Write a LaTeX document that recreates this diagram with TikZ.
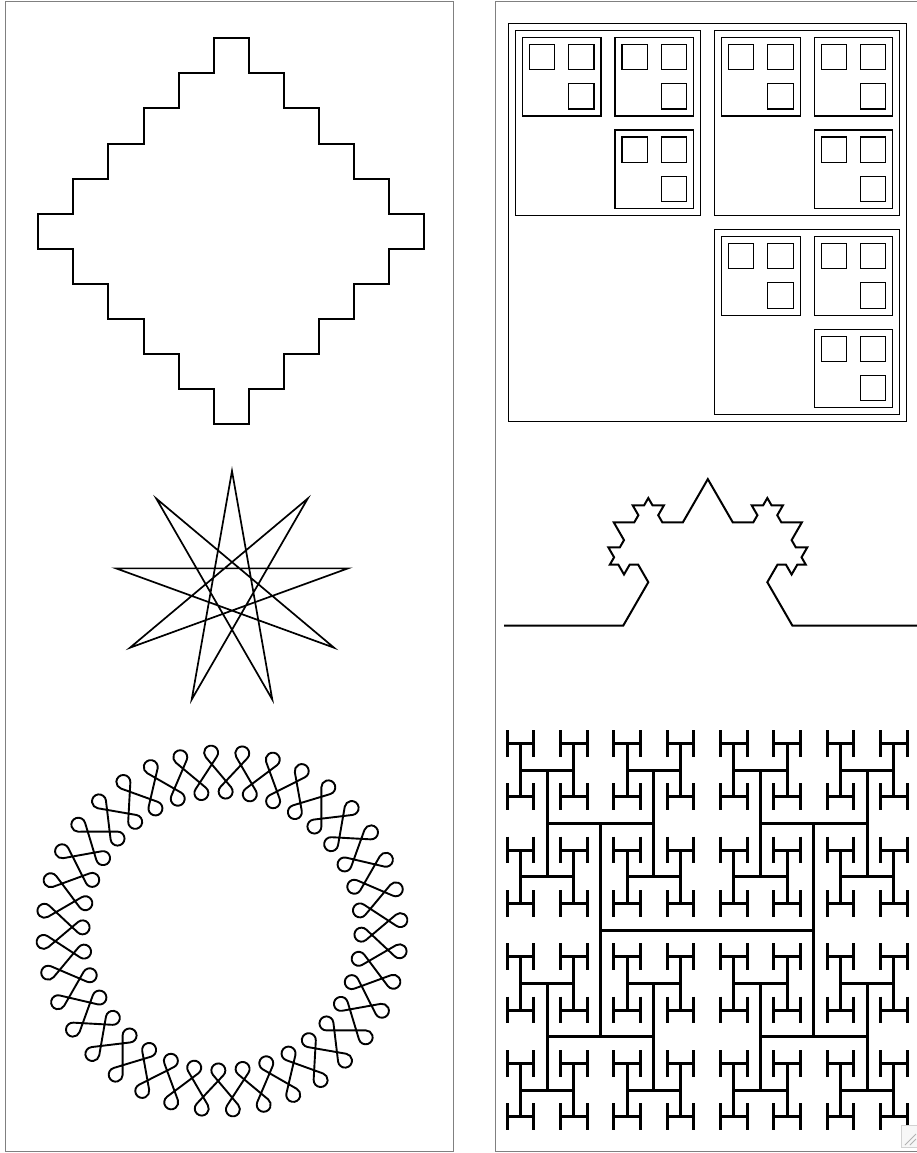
\documentclass[tikz,border=0pt]{standalone}
\usetikzlibrary{calc}
% ---------- turtle helpers for the Koch-like curve ----------
\newcommand\kfwd[1]{%
  \pgfmathsetmacro\tmpx{\kx+(#1)*cos(\kh)}%
  \pgfmathsetmacro\tmpy{\ky-(#1)*sin(\kh)}%
  \global\let\kx\tmpx\global\let\ky\tmpy
  \xdef\kpath{\kpath -- (\kx,\ky)}}
\newcommand\kturn[1]{\pgfmathsetmacro\tmph{\kh+(#1)}\global\let\kh\tmph}
\newcommand\kochseg[2]{%
  \ifnum#2=0
    \kfwd{#1}%
  \else
    \begingroup
    \pgfmathsetmacro\ka{(#1)*0.2959}%
    \pgfmathsetmacro\kb{(#1)*0.4083}%
    \pgfmathtruncatemacro\kd{#2-1}%
    \edef\knext{\noexpand\kochseg{\kb}{\kd}}%
    \kfwd{\ka}\kturn{60}%
    \knext
    \kturn{-120}%
    \knext
    \kturn{60}%
    \kfwd{\ka}%
    \endgroup
  \fi}
% ---------- nested squares ----------
\newcommand\sqrec[4]{%
  \draw[sqline] (#1,#2) rectangle ++(#3,#3);
  \ifnum#4>0
    \begingroup
    \pgfmathsetmacro\sL{(#3-28)/2}%
    \pgfmathsetmacro\sxa{#1+7}%
    \pgfmathsetmacro\sya{#2+7}%
    \pgfmathsetmacro\sxb{#1+21+\sL}%
    \pgfmathsetmacro\syb{#2+21+\sL}%
    \pgfmathtruncatemacro\sd{#4-1}%
    \edef\snext{\noexpand\sqrec{\sxa}{\sya}{\sL}{\sd}%
      \noexpand\sqrec{\sxb}{\sya}{\sL}{\sd}%
      \noexpand\sqrec{\sxb}{\syb}{\sL}{\sd}}%
    \snext
    \endgroup
  \fi}
% ---------- H-tree ----------
\newcommand\htH[4]{%
  \begingroup
  \pgfmathsetmacro\hxa{#1-(#3)/2}\pgfmathsetmacro\hxb{#1+(#3)/2}%
  \draw[hline] (\hxa,#2) -- (\hxb,#2);
  \ifnum#4>0
    \pgfmathtruncatemacro\hd{#4-1}%
    \edef\hnext{\noexpand\htV{\hxa}{#2}{#3}{\hd}\noexpand\htV{\hxb}{#2}{#3}{\hd}}\hnext
  \fi
  \endgroup}
\newcommand\htV[4]{%
  \begingroup
  \pgfmathsetmacro\hya{#2-(#3)/2}\pgfmathsetmacro\hyb{#2+(#3)/2}%
  \draw[hline] (#1,\hya) -- (#1,\hyb);
  \ifnum#4>0
    \pgfmathtruncatemacro\hd{#4-1}\pgfmathsetmacro\hl{(#3)/2}%
    \edef\hnext{\noexpand\htH{#1}{\hya}{\hl}{\hd}\noexpand\htH{#1}{\hyb}{\hl}{\hd}}\hnext
  \fi
  \endgroup}
\begin{document}
\begin{tikzpicture}[x=1pt,y=-1pt,
  panel/.style={draw=gray,line width=1pt},
  stairline/.style={line width=2pt},
  starline/.style={line width=1.7pt,line join=miter},
  ringline/.style={line width=1.9pt},
  sqline/.style={line width=1.2pt},
  kline/.style={line width=2pt},
  hline/.style={line width=3pt}]
\useasboundingbox (0,0) rectangle (917,1153);
\fill[white] (0,0) rectangle (917,1153);
% panels
\draw[panel] (5,1.7) rectangle (453.3,1151.5);
\draw[panel] (918,1.7) -- (495,1.7) -- (495,1151.5) -- (918,1151.5);
% ---------- staircase diamond ----------
\begin{scope}[shift={(231.2,231.2)},scale=35.06]
\draw[stairline] (-0.5,-5.5) -- (0.5,-5.5) -- (0.5,-4.5) -- (1.5,-4.5) -- (1.5,-3.5)
  -- (2.5,-3.5) -- (2.5,-2.5) -- (3.5,-2.5) -- (3.5,-1.5) -- (4.5,-1.5) -- (4.5,-0.5)
  -- (5.5,-0.5) -- (5.5,0.5) -- (4.5,0.5) -- (4.5,1.5) -- (3.5,1.5) -- (3.5,2.5)
  -- (2.5,2.5) -- (2.5,3.5) -- (1.5,3.5) -- (1.5,4.5) -- (0.5,4.5) -- (0.5,5.5)
  -- (-0.5,5.5) -- (-0.5,4.5) -- (-1.5,4.5) -- (-1.5,3.5) -- (-2.5,3.5) -- (-2.5,2.5)
  -- (-3.5,2.5) -- (-3.5,1.5) -- (-4.5,1.5) -- (-4.5,0.5) -- (-5.5,0.5) -- (-5.5,-0.5)
  -- (-4.5,-0.5) -- (-4.5,-1.5) -- (-3.5,-1.5) -- (-3.5,-2.5) -- (-2.5,-2.5) -- (-2.5,-3.5)
  -- (-1.5,-3.5) -- (-1.5,-4.5) -- (-0.5,-4.5) -- cycle;
\end{scope}
% ---------- star {9/4} ----------
\coordinate (sc) at (232,588.8);
\foreach \i in {0,...,8} \coordinate (s\i) at ($(sc)+(-90+40*\i:117.8)$);
\draw[starline] (s0) -- (s4) -- (s8) -- (s3) -- (s7) -- (s2) -- (s6) -- (s1) -- (s5) -- cycle;
% ---------- ring of loops ----------
\gdef\ringpath{}
\foreach \j in {0,...,71} {
  \pgfmathsetmacro\rP{167-17*mod(\j+71,2)}
  \pgfmathsetmacro\rC{167-17*mod(\j,2)}
  \pgfmathsetmacro\rN{167-17*mod(\j+1,2)}
  \pgfmathsetmacro\aP{-3.5+5*(\j-1)}
  \pgfmathsetmacro\aC{-3.5+5*\j}
  \pgfmathsetmacro\aN{-3.5+5*(\j+1)}
  \pgfmathsetmacro\Px{222+\rP*sin(\aP)}
  \pgfmathsetmacro\Py{931-\rP*cos(\aP)}
  \pgfmathsetmacro\Cx{222+\rC*sin(\aC)}
  \pgfmathsetmacro\Cy{931-\rC*cos(\aC)}
  \pgfmathsetmacro\Nx{222+\rN*sin(\aN)}
  \pgfmathsetmacro\Ny{931-\rN*cos(\aN)}
  \pgfmathsetmacro\un{veclen(\Cx-\Px,\Cy-\Py)}
  \pgfmathsetmacro\ux{(\Cx-\Px)/\un}
  \pgfmathsetmacro\uy{(\Cy-\Py)/\un}
  \pgfmathsetmacro\vn{veclen(\Nx-\Cx,\Ny-\Cy)}
  \pgfmathsetmacro\vx{(\Nx-\Cx)/\vn}
  \pgfmathsetmacro\vy{(\Ny-\Cy)/\vn}
  \pgfmathsetmacro\wn{veclen(\ux-\vx,\uy-\vy)}
  \pgfmathsetmacro\wx{(\ux-\vx)/\wn}
  \pgfmathsetmacro\wy{(\uy-\vy)/\wn}
  \pgfmathsetmacro\fphi{acos(\ux*\wx+\uy*\wy)}
  \pgfmathsetmacro\ddl{7/sin(\fphi)}
  \pgfmathsetmacro\ttl{7/tan(\fphi)}
  \pgfmathsetmacro\Mx{\Cx+\ddl*\wx}
  \pgfmathsetmacro\My{\Cy+\ddl*\wy}
  \pgfmathsetmacro\Tx{\Cx+\ttl*\ux}
  \pgfmathsetmacro\Ty{\Cy+\ttl*\uy}
  \pgfmathsetmacro\thA{atan2(\Ty-\My,\Tx-\Mx)}
  \pgfmathsetmacro\sg{sign(\ux*\wy-\uy*\wx)}
  \pgfmathsetmacro\thB{\thA+\sg*(180+2*\fphi)}
  \ifnum\j=0
    \xdef\ringpath{(\Tx,\Ty) arc[start angle=\thA,end angle=\thB,radius=7]}%
  \else
    \xdef\ringpath{\ringpath -- (\Tx,\Ty) arc[start angle=\thA,end angle=\thB,radius=7]}%
  \fi
}
\edef\rdraw{\noexpand\draw[ringline] \ringpath -- cycle;}
\rdraw
% ---------- nested squares ----------
\sqrec{508.3}{23.3}{398.5}{3}
% ---------- Koch-like curve ----------
\gdef\kx{623.3}\gdef\ky{625.5}\gdef\kh{60}\gdef\kpath{}
\kochseg{169}{3}
\kturn{-120}
\kochseg{169}{3}
\edef\kdraw{\noexpand\draw[kline] (504,625.5) -- (623.3,625.5) \kpath -- (918,625.5);}
\kdraw
% ---------- H-tree ----------
\htH{707}{930}{213.33}{7}
% ---------- resize grip ----------
\draw[gray!35,fill=gray!6] (901,1125) rectangle (918,1147);
\draw[gray!60,line width=0.8pt] (905,1145) -- (916,1134) (910,1145) -- (916,1139);
\end{tikzpicture}
\end{document}
